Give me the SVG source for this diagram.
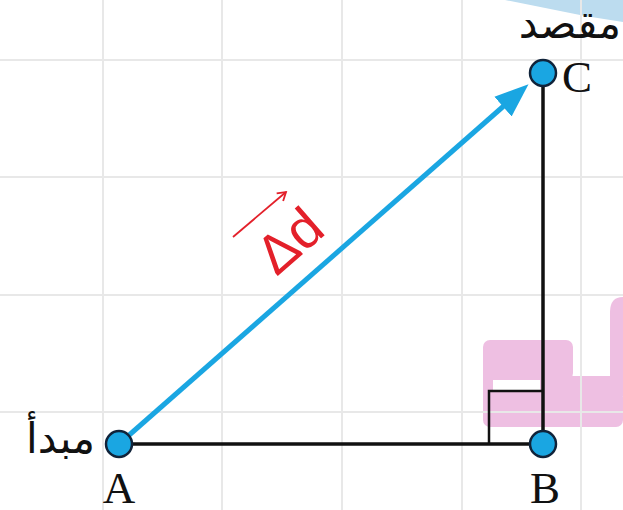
<svg xmlns="http://www.w3.org/2000/svg" width="623" height="510" viewBox="0 0 623 510">
<style>
.grid{stroke:#e8e8e8;stroke-width:2;fill:none}
.edge{stroke:#111;stroke-width:3.5;fill:none}
.pt{fill:#1aa6e2;stroke:#10233a;stroke-width:2.5}
.lbl{font-family:"Liberation Serif",serif;font-size:45px;fill:#111}
.ar{font-family:"DejaVu Sans","Noto Sans",sans-serif;font-size:42px;fill:#111}
.vec{font-family:"Liberation Sans",Arial,sans-serif;font-size:55px;fill:#e3202a}
.wm{fill:#eebfe2}
</style>
<defs>
<marker id="bluehead" markerWidth="34" markerHeight="30" refX="4" refY="15" orient="auto" markerUnits="userSpaceOnUse">
<path d="M0,2 L34,15 L0,28 Z" fill="#1aa6e2"/>
</marker>
<marker id="redhead" markerWidth="12" markerHeight="12" refX="10" refY="6" orient="auto" markerUnits="userSpaceOnUse">
<path d="M2,1 L10,6 L2,11" fill="none" stroke="#e3202a" stroke-width="1.8"/>
</marker>
</defs>
<rect width="623" height="510" fill="#ffffff"/>
<g id="watermark">
<path d="M505,0 L623,0 L623,22 L585,16 Z" fill="#bcdcef"/>
<rect class="wm" x="483" y="340" width="90" height="40" rx="7"/>
<rect class="wm" x="483" y="370" width="10" height="50"/>
<rect class="wm" x="540" y="376" width="83" height="20"/>
<rect class="wm" x="483" y="390" width="140" height="37" rx="7"/>
<path class="wm" d="M610,396 L610,312 Q610,297 623,297 L623,396 Z"/>
</g>
<g id="grid">
<line class="grid" x1="103" y1="0" x2="103" y2="510"/>
<line class="grid" x1="222" y1="0" x2="222" y2="510"/>
<line class="grid" x1="342" y1="0" x2="342" y2="510"/>
<line class="grid" x1="462" y1="0" x2="462" y2="510"/>
<line class="grid" x1="581" y1="0" x2="581" y2="510"/>
<line class="grid" x1="0" y1="60" x2="623" y2="60"/>
<line class="grid" x1="0" y1="177" x2="623" y2="177"/>
<line class="grid" x1="0" y1="295" x2="623" y2="295"/>
<line class="grid" x1="0" y1="412" x2="623" y2="412"/>
</g>
<g id="connectors">
<line class="edge" x1="119" y1="444" x2="543" y2="444"/>
<line class="edge" x1="543" y1="444" x2="543" y2="73"/>
<path d="M489,444 L489,391 L543,391" fill="none" stroke="#111" stroke-width="2.5"/>
<line x1="119" y1="444" x2="506" y2="104" stroke="#1aa6e2" stroke-width="5" marker-end="url(#bluehead)"/>
<line x1="233" y1="237" x2="286" y2="192" stroke="#e3202a" stroke-width="1.8" marker-end="url(#redhead)"/>
<text class="vec" transform="translate(302,255) rotate(-41)" text-anchor="middle">Δd</text>
</g>
<g id="A">
<circle class="pt" cx="119" cy="444" r="13"/>
<text class="lbl" x="119" y="503" text-anchor="middle">A</text>
<text class="ar" x="95" y="453" text-anchor="end">مبدأ</text>
</g>
<g id="B">
<circle class="pt" cx="543" cy="444" r="13"/>
<text class="lbl" x="545" y="503" text-anchor="middle">B</text>
</g>
<g id="C">
<circle class="pt" cx="543" cy="73" r="13"/>
<text class="lbl" x="562" y="92">C</text>
<text class="ar" x="621" y="38" text-anchor="end">مقصد</text>
</g>
</svg>
